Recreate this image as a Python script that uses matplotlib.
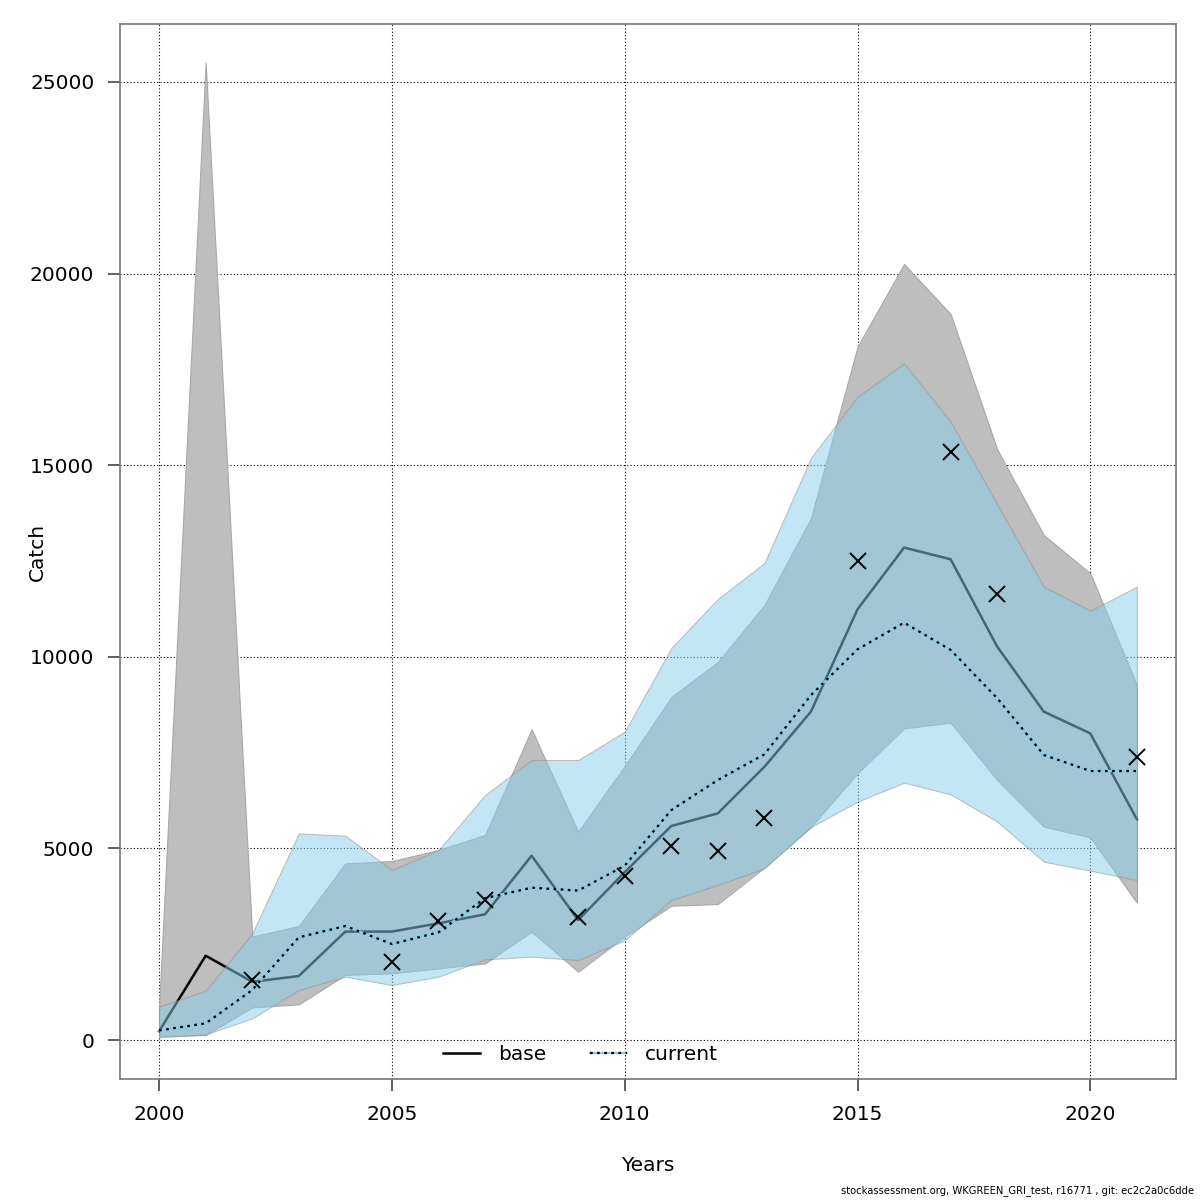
import matplotlib
matplotlib.use("Agg")
import matplotlib.pyplot as plt
from matplotlib.lines import Line2D
import numpy as np

plt.rcParams['font.family'] = ['DejaVu Sans']

years = np.arange(2000, 2022)

# base run: estimate and confidence band
base = [230, 2200, 1520, 1670, 2830, 2830, 3045, 3280, 4810, 3130, 4380,
        5585, 5915, 7130, 8570, 11240, 12850, 12545, 10265, 8570, 8000, 5760]
base_lo = [100, 130, 852, 931, 1700, 1740, 1870, 2000, 2827, 1783, 2700,
           3505, 3549, 4500, 5560, 6959, 8133, 8281, 6785, 5567, 5289, 3584]
base_hi = [870, 25500, 2700, 2975, 4610, 4671, 4958, 5350, 8107, 5437, 7150,
           8950, 9864, 11350, 13620, 18093, 20250, 18945, 15414, 13178, 12178, 9264]

# current run: estimate and confidence band
current = [250, 435, 1305, 2680, 2975, 2505, 2810, 3700, 3975, 3900, 4550,
           6000, 6785, 7455, 9000, 10195, 10890, 10180, 8920, 7440, 7020, 7020]
cur_lo = [70, 148, 565, 1305, 1653, 1435, 1653, 2105, 2175, 2088, 2600,
          3653, 4045, 4480, 5560, 6220, 6715, 6411, 5698, 4654, 4419, 4175]
cur_hi = [870, 1287, 2780, 5393, 5332, 4436, 4958, 6394, 7307, 7307, 8046,
          10230, 11508, 12448, 15190, 16788, 17658, 16136, 13988, 11830, 11204, 11830]

# observed catch (NaN = no observation)
nan = np.nan
obs = [nan, nan, 1566, nan, nan, 2027, 3114, 3653, nan, 3218, 4280,
       5071, 4932, 5785, nan, 12500, nan, 15336, 11631, nan, nan, 7377]

fig = plt.figure(figsize=(12, 12), dpi=100)
ax = fig.add_axes([0.1, 0.1008, 0.88, 0.8792])

# grey band for base, then base line, then blue band on top
ax.fill_between(years, base_lo, base_hi, facecolor='#bebebe',
                edgecolor='#a8a8a8', linewidth=0.8, zorder=1)
ax.plot(years, base, color='black', lw=1.8, zorder=2)
ax.fill_between(years, cur_lo, cur_hi, facecolor='#87ceeb', alpha=0.5,
                edgecolor='#909090', linewidth=0.8, zorder=3)
ax.plot(years, current, color='#87ceeb', lw=1.6, zorder=4)
ax.plot(years, current, color='black', lw=1.6, ls=(0, (1.2, 2.0)), zorder=5)
ax.plot(years, obs, ls='none', marker='x', color='black', ms=11, mew=1.4, zorder=6)

ax.set_xlim(1999.16, 2021.84)
ax.set_ylim(-1018, 26513)
ax.set_xticks(range(2000, 2021, 5))
ax.set_yticks(range(0, 25001, 5000))
ax.grid(True, color='black', ls=(0, (1, 2)), lw=0.8)
ax.set_axisbelow(True)

ax.tick_params(axis='both', labelsize=14.5, length=8.5, width=1.2,
               colors='#444444', labelcolor='black')
ax.tick_params(axis='x', pad=10)
ax.tick_params(axis='y', pad=10)
for s in ax.spines.values():
    s.set_color('#777777')
    s.set_linewidth(1.2)

ax.set_xlabel('Years', fontsize=14.5)
ax.set_ylabel('Catch', fontsize=14.5)
ax.xaxis.set_label_coords(0.5, -0.0815)
ax.yaxis.set_label_coords(-0.0786, 0.5)
ax.xaxis.label.set_va('center')
ax.yaxis.label.set_va('center')

h_base = Line2D([], [], color='black', lw=1.8)
h_cur1 = Line2D([], [], color='#87ceeb', lw=1.6)
h_cur2 = Line2D([], [], color='black', lw=1.6, ls=(0, (1.2, 2.0)))
ax.legend([h_base, (h_cur1, h_cur2)], ['base', 'current'], loc='lower left',
          bbox_to_anchor=(0.2885, -0.003), ncol=2, frameon=False, fontsize=14.5,
          handlelength=1.85, handletextpad=0.9, columnspacing=2.15)

fig.text(0.995, 0.003, 'stockassessment.org, WKGREEN_GRI_test, r16771 , git: ec2c2a0c6dde',
         ha='right', va='bottom', fontsize=7.2)

fig.savefig('out.png', dpi=100)
